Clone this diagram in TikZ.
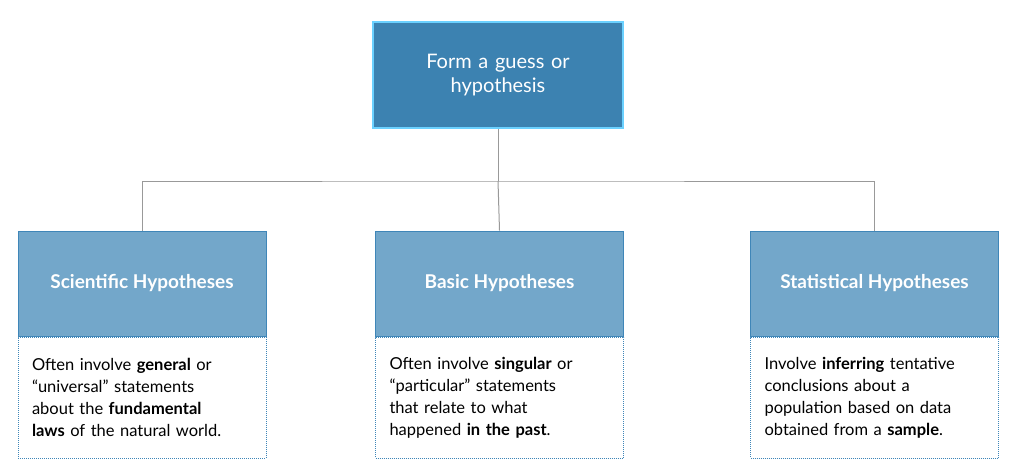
\documentclass[tikz,border=0pt]{standalone}
\usepackage{fontspec}
\setmainfont{Lato}
\begin{document}
\begin{tikzpicture}[x=1pt,y=-1pt,
  top/.style={draw=white!70!blue!60!cyan, line width=1.5pt, fill=topc, minimum width=250pt, minimum height=106pt, text=white, font=\fontsize{20}{24}\selectfont, align=center, text width=200pt},
  cat/.style={draw=catb, line width=1pt, fill=catc, minimum width=248pt, minimum height=105pt, text=white, font=\fontsize{19}{22}\selectfont\bfseries, align=center},
  desc/.style={draw=catb, densely dotted, line width=1pt, minimum width=248pt, minimum height=121pt, font=\fontsize{16.5}{22}\selectfont, align=left, text width=220pt, inner sep=0pt},
  link/.style={draw=gray!80, line width=1pt}]
\definecolor{topc}{HTML}{3C82B1}
\definecolor{catc}{HTML}{73A7CA}
\definecolor{catb}{HTML}{3F86B8}
\useasboundingbox (0,0) rectangle (1024,475);
\node[top] (t) at (498,75) {Form a guess or\\hypothesis};
\node[cat] (a) at (142,283.5) {Scientific Hypotheses};
\node[cat] (b) at (499.5,283.5) {Basic Hypotheses};
\node[cat] (c) at (874.5,283.5) {Statistical Hypotheses};
\node[desc,anchor=north] (da) at (a.south) {Often involve \textbf{general} or\\“universal” statements\\about the \textbf{fundamental}\\\textbf{laws} of the natural world.};
\node[desc,anchor=north] (db) at (b.south) {Often involve \textbf{singular} or\\“particular” statements\\that relate to what\\happened \textbf{in the past}.};
\node[desc,anchor=north] (dc) at (c.south) {Involve \textbf{inferring} tentative\\conclusions about a\\population based on data\\obtained from a \textbf{sample}.};
\coordinate (j) at (498,181);
\draw[link] (t.south) -- (j);
\draw[link] (a.north) |- (j) -| (c.north);
\draw[link] (j) -- (b.north);
\end{tikzpicture}
\end{document}
